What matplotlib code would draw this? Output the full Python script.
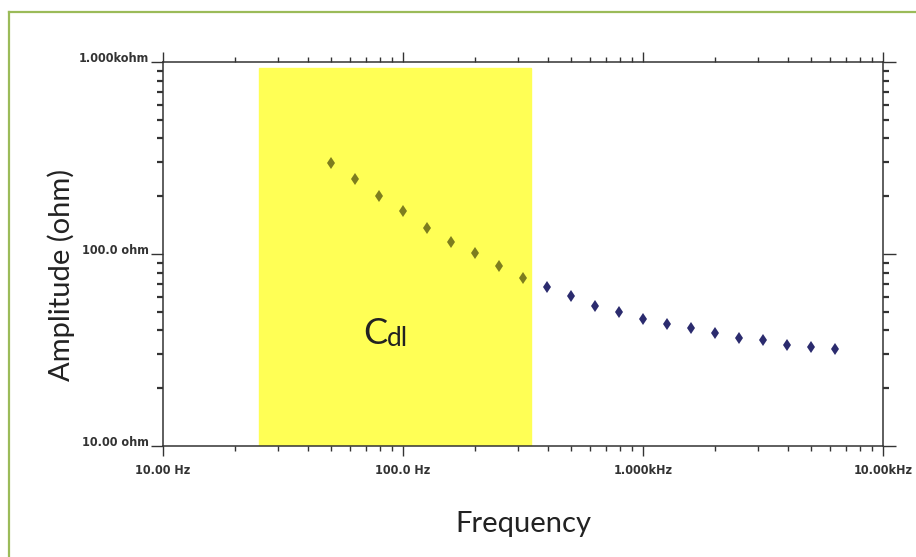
import matplotlib
matplotlib.use("Agg")
import matplotlib.pyplot as plt
from matplotlib.lines import Line2D
import numpy as np

# impedance amplitude vs frequency
freq_hz = [50.1, 63.1, 79.4, 100.0, 125.9, 158.5, 199.5, 251.2, 316.2,
           398.1, 501.2, 631.0, 794.3, 1000.0, 1259.0, 1585.0, 1995.0,
           2512.0, 3162.0, 3981.0, 5012.0, 6310.0]
amp_ohm = [297.0, 245.0, 201.0, 167.5, 137.0, 116.0, 101.0, 86.6, 75.3,
           67.6, 60.4, 53.6, 49.7, 45.7, 43.2, 41.0, 38.9, 36.6,
           35.6, 33.7, 32.9, 31.9]

cdl_band = [25.1, 341.0]  # Hz, highlighted region

xticks = [10, 100, 1000, 10000]
xtick_labels = ["10.00 Hz", "100.0 Hz", "1.000kHz", "10.00kHz"]
yticks = [10, 100, 1000]
ytick_labels = ["10.00 ohm", "100.0 ohm", "1.000kohm"]

label_font = ["Lato", "DejaVu Sans"]
tick_fp = matplotlib.font_manager.FontProperties(
    family="DejaVu Sans", stretch="condensed", weight="bold", size=9)

fig = plt.figure(figsize=(9.16, 5.57), dpi=100)
ax = fig.add_axes([0.178, 0.1993, 0.786, 0.6894])

f = np.array(freq_hz)
a = np.array(amp_ohm)
inside = (f >= cdl_band[0]) & (f <= cdl_band[1])

ax.axvspan(cdl_band[0], cdl_band[1], ymin=0, ymax=0.985, color="#FFFF55", zorder=1)
ax.plot(f[inside], a[inside], ls="none", marker="d", ms=6, mew=0,
        color="#7d7d1e", zorder=3)
ax.plot(f[~inside], a[~inside], ls="none", marker="d", ms=6, mew=0,
        color="#2b2b6e", zorder=3)

ax.set_xscale("log")
ax.set_yscale("log")
ax.set_xlim(10, 10000)
ax.set_ylim(10, 1000)

ax.set_xticks(xticks, labels=xtick_labels)
ax.set_yticks(yticks, labels=ytick_labels)
ax.xaxis.set_minor_formatter(matplotlib.ticker.NullFormatter())
ax.yaxis.set_minor_formatter(matplotlib.ticker.NullFormatter())

for lab in ax.get_xticklabels():
    lab.set_fontproperties(tick_fp)
    lab.set_color("#333333")
for lab in ax.get_yticklabels():
    lab.set_fontproperties(tick_fp)
    lab.set_color("#333333")
    lab.set_va("baseline")

ax.tick_params(axis="both", which="both", direction="out", top=True, right=True,
               colors="#333333")
ax.tick_params(axis="x", which="major", length=7, width=1, pad=6)
ax.tick_params(axis="x", which="minor", length=3.5, width=1)
ax.tick_params(axis="y", which="major", length=9, width=1, pad=1)
ax.tick_params(axis="y", which="minor", length=4, width=1.6)

for sp in ax.spines.values():
    sp.set_color("#333333")
    sp.set_linewidth(1.1)

ax.set_xlabel("Frequency", family=label_font, fontsize=21, color="#222222")
ax.xaxis.set_label_coords(0.50, -0.17)
ax.set_ylabel("Amplitude (ohm)", family=label_font, fontsize=21, color="#222222")
ax.yaxis.set_label_coords(-0.122, 0.445)

# C_dl annotation
ax.annotate("C", xy=(86, 34), xycoords="data", ha="right", va="baseline",
            family=label_font, fontsize=26, color="#222222")
ax.annotate("dl", xy=(86, 34), xycoords="data", xytext=(0, -1.5),
            textcoords="offset points", ha="left", va="baseline",
            family=label_font, fontsize=19, color="#222222")

# green frame (open on the right/bottom, as cropped)
fig.add_artist(Line2D([9 / 916, 9 / 916], [0, 1 - 12 / 557],
                      transform=fig.transFigure, color="#9BBB59", lw=1.6))
fig.add_artist(Line2D([9 / 916, 1], [1 - 12 / 557, 1 - 12 / 557],
                      transform=fig.transFigure, color="#9BBB59", lw=1.6))

fig.savefig("out.png", dpi=100)
